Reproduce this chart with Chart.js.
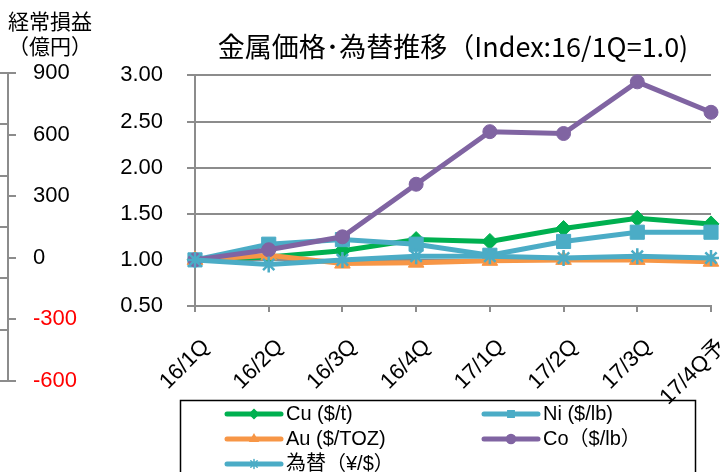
<!DOCTYPE html>
<html>
<head>
<meta charset="utf-8">
<title>金属価格・為替推移</title>
<script src="https://cdn.jsdelivr.net/npm/chart.js"></script>
<style>
  html, body { margin: 0; padding: 0; background: #fff; }
  #wrap { position: relative; width: 722px; height: 472px; overflow: hidden; }
  #mainChart { position: absolute; left: 0; top: 0; }
  #leftAxis { position: absolute; left: -42px; top: 0; }
</style>
</head>
<body>
<div id="wrap">
  <canvas id="mainChart" width="722" height="472"></canvas>
  <canvas id="leftAxis" width="140" height="472"></canvas>
</div>
<script>
// quarters and index values (16/1Q = 1.0)
const quarters = ['16/1Q', '16/2Q', '16/3Q', '16/4Q', '17/1Q', '17/2Q', '17/3Q', '17/4Q予'];
const cu = [1.00, 1.03, 1.10, 1.22, 1.20, 1.34, 1.45, 1.39];
const ni = [1.00, 1.17, 1.22, 1.17, 1.05, 1.20, 1.30, 1.30];
const au = [1.00, 1.05, 0.96, 0.97, 0.99, 1.00, 1.00, 0.98];
const co = [1.00, 1.11, 1.25, 1.82, 2.39, 2.37, 2.93, 2.60];
const fx = [1.00, 0.95, 1.00, 1.04, 1.04, 1.02, 1.04, 1.02];

// axis ranges
const indexMin = 0.5, indexMax = 3.0, indexStep = 0.5;
const profitMin = -600, profitMax = 900, profitStep = 300;

const gray = '#8c8c8c';
const latin = '"Liberation Sans", "Noto Sans CJK JP", sans-serif';
const cjk = '"Noto Sans CJK JP", sans-serif';

function series(label, data, color, style, radius, order) {
    return {
        label: label,
        data: data,
        borderColor: color,
        backgroundColor: color,
        pointBackgroundColor: color,
        pointBorderColor: color,
        borderWidth: 5,
        pointStyle: style,
        pointRadius: radius,
        pointBorderWidth: style === 'star' ? 2.5 : 1,
        tension: 0,
        fill: false,
        clip: false,
        order: order
    };
}

// legend drawn as a two column box under the plot
const legendBox = {
    id: 'legendBox',
    afterDraw(chart) {
        const ctx = chart.ctx;
        ctx.save();
        ctx.strokeStyle = '#000';
        ctx.lineWidth = 1.5;
        ctx.strokeRect(180.5, 400.5, 515, 90);
        const cols = [227, 484];
        chart.data.datasets.forEach((ds, i) => {
            const x = cols[i % 2];
            const y = 414 + Math.floor(i / 2) * 25;
            ctx.strokeStyle = ds.borderColor;
            ctx.lineWidth = 5;
            ctx.lineCap = 'round';
            ctx.beginPath();
            ctx.moveTo(x, y);
            ctx.lineTo(x + 54, y);
            ctx.stroke();
            ctx.fillStyle = ds.borderColor;
            ctx.lineWidth = 1.5;
            Chart.helpers.drawPoint(ctx, { pointStyle: ds.pointStyle, radius: 4.5, borderWidth: 1.5, rotation: 0 }, x + 27, y);
            ctx.fillStyle = '#000';
            ctx.font = '20px ' + latin;
            ctx.textAlign = 'left';
            ctx.textBaseline = 'middle';
            ctx.fillText(ds.label, x + 59, y);
        });
        ctx.restore();
    }
};

new Chart(document.getElementById('mainChart'), {
    type: 'line',
    data: {
        labels: quarters,
        datasets: [
            series('Cu ($/t)', cu, '#00B050', 'rectRot', 8, 5),
            series('Ni ($/lb)', ni, '#4BACC6', 'rect', 10, 4),
            series('Au ($/TOZ)', au, '#F79646', 'triangle', 9, 3),
            series('Co（$/lb）', co, '#8064A2', 'circle', 7, 2),
            series('為替（¥/$）', fx, '#4BACC6', 'star', 8, 1)
        ]
    },
    options: {
        responsive: false,
        animation: false,
        layout: { padding: { top: 0, left: 0, right: 4, bottom: 66 } },
        plugins: {
            legend: { display: false },
            tooltip: { enabled: false },
            title: {
                display: true,
                fullSize: false,
                text: '金属価格･為替推移（Index:16/1Q=1.0)',
                color: '#000',
                font: { family: cjk, size: 27, weight: 'normal' },
                padding: { top: 31, bottom: 12 }
            }
        },
        scales: {
            x: {
                offset: false,
                grid: { drawOnChartArea: false, tickLength: 6, color: gray, lineWidth: 2 },
                border: { color: gray, width: 2 },
                ticks: {
                    autoSkip: false,
                    minRotation: 45,
                    maxRotation: 45,
                    padding: 22,
                    labelOffset: 11,
                    color: '#000',
                    font: { family: latin, size: 22 }
                },
                afterFit(s) {
                    s.height = 100;
                    s.paddingLeft = 0;
                    s.paddingRight = 0;
                }
            },
            y: {
                min: indexMin,
                max: indexMax,
                grid: { color: gray, lineWidth: 2, tickLength: 8 },
                border: { color: gray, width: 2 },
                ticks: {
                    stepSize: indexStep,
                    padding: 24,
                    color: '#000',
                    font: { family: latin, size: 22 },
                    callback: v => v.toFixed(2)
                },
                afterFit(s) { s.width = 195; }
            }
        }
    },
    plugins: [legendBox]
});

// partial profit axis at the left edge of the slide
const unitTitle = {
    id: 'unitTitle',
    afterDraw(chart) {
        const ctx = chart.ctx;
        ctx.save();
        ctx.fillStyle = '#000';
        ctx.font = '21px ' + cjk;
        ctx.textAlign = 'center';
        ctx.textBaseline = 'middle';
        ctx.fillText('経常損益', 92, 21);
        ctx.fillText('（億円）', 92, 46);
        ctx.restore();
    }
};

new Chart(document.getElementById('leftAxis'), {
    type: 'line',
    data: { labels: [], datasets: [] },
    options: {
        responsive: false,
        animation: false,
        layout: { padding: { top: 73, bottom: 91, left: 0, right: 0 } },
        plugins: { legend: { display: false }, tooltip: { enabled: false } },
        scales: {
            x: { display: false },
            yOuter: {
                position: 'left',
                min: 0,
                max: 6,
                ticks: { display: false, stepSize: 1 },
                grid: { color: gray, lineWidth: 2, drawTicks: false },
                border: { display: false },
                afterFit(s) { s.width = 0; }
            },
            y: {
                position: 'right',
                min: profitMin,
                max: profitMax,
                ticks: {
                    stepSize: profitStep,
                    padding: 17,
                    color: c => c.tick.value < 0 ? '#FF0000' : '#000',
                    font: { family: latin, size: 22 }
                },
                grid: { drawOnChartArea: false, tickLength: 8, color: gray, lineWidth: 2 },
                border: { color: gray, width: 2 },
                afterFit(s) { s.width = 90; }
            }
        }
    },
    plugins: [unitTitle]
});
</script>
</body>
</html>
